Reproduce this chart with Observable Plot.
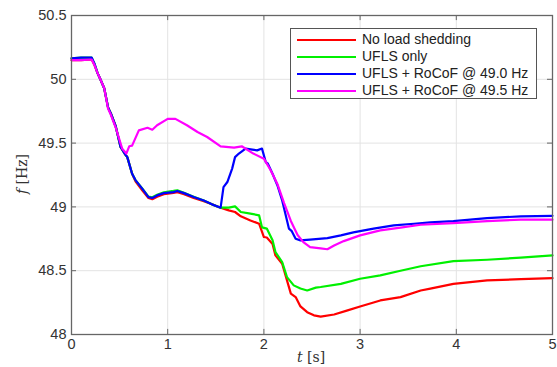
<!DOCTYPE html>
<html>
<head>
<meta charset="utf-8">
<script src="https://cdn.jsdelivr.net/npm/d3@7"></script>
<script src="https://cdn.jsdelivr.net/npm/@observablehq/plot@0.6"></script>
<style>
  html, body { margin: 0; padding: 0; background: #fff; }
  #wrap { position: relative; width: 557px; height: 367px; font-family: "Liberation Sans", Arial, sans-serif; }
  #legend { position: absolute; left: 290px; top: 28px; width: 245px; height: 69px; border: 1px solid #555; background: #fff; }
  .row { position: absolute; left: 0; height: 17px; width: 245px; }
  .sw { position: absolute; left: 6px; top: 8px; width: 59px; height: 2px; }
  .lab { position: absolute; left: 71px; top: 0px; font-size: 14px; line-height: 17px; color: #222; white-space: nowrap; }
  .serif { font-family: "DejaVu Serif", "Liberation Serif", serif !important; }
</style>
</head>
<body>
<div id="wrap"></div>
<script>
// Series names and colours
const seriesNames = ["No load shedding", "UFLS only", "UFLS + RoCoF @ 49.0 Hz", "UFLS + RoCoF @ 49.5 Hz"];
const seriesColors = ["#ff0000", "#00f000", "#0000ff", "#ff00ff"];

// Axis ticks
const xTicks = [0, 1, 2, 3, 4, 5];
const yTicks = [48, 48.5, 49, 49.5, 50, 50.5];

// No load shedding (red)
const tRed = [0, 0.1, 0.21, 0.24, 0.27, 0.30, 0.34, 0.38, 0.41, 0.46, 0.51, 0.56,
  0.58, 0.63, 0.665, 0.735, 0.80, 0.84, 0.89, 0.96, 1.06, 1.1, 1.17, 1.27, 1.375, 1.46, 1.55,
  1.635, 1.70, 1.76, 1.86, 1.95, 2.0, 2.03, 2.09, 2.12, 2.19, 2.24, 2.28, 2.33, 2.38, 2.45, 2.52, 2.59,
  2.73, 2.87, 3.0, 3.21, 3.42, 3.63, 3.73, 3.97, 4.32, 4.67, 5.0];
const fRed = [50.15, 50.15, 50.155, 50.11, 50.05, 50.0, 49.93, 49.78, 49.73, 49.63, 49.47, 49.41,
  49.39, 49.26, 49.2, 49.13, 49.07, 49.06, 49.08, 49.1, 49.11, 49.115, 49.1, 49.07, 49.045, 49.02, 48.994,
  48.973, 48.96, 48.926, 48.894, 48.868, 48.764, 48.76, 48.71, 48.62, 48.555, 48.424, 48.32, 48.293, 48.22, 48.175, 48.15, 48.14,
  48.157, 48.189, 48.22, 48.267, 48.293, 48.345, 48.36, 48.397, 48.424, 48.434, 48.442];

// UFLS only (green)
const tGreen = [0, 0.1, 0.21, 0.24, 0.27, 0.30, 0.34, 0.38, 0.41, 0.46, 0.51, 0.56,
  0.58, 0.63, 0.665, 0.735, 0.80, 0.84, 0.89, 0.96, 1.06, 1.1, 1.17, 1.27, 1.375, 1.46, 1.55,
  1.635, 1.70, 1.76, 1.86, 1.95, 1.98, 2.03, 2.09, 2.12, 2.19, 2.24, 2.31, 2.38, 2.45, 2.54, 2.59,
  2.8, 3.0, 3.21, 3.42, 3.63, 3.97, 4.32, 4.67, 5.0];
const fGreen = [50.165, 50.17, 50.17, 50.12, 50.05, 50.0, 49.93, 49.78, 49.73, 49.63, 49.47, 49.41,
  49.39, 49.26, 49.21, 49.145, 49.08, 49.075, 49.095, 49.115, 49.125, 49.13, 49.11, 49.08, 49.05, 49.02, 48.994,
  48.994, 49.004, 48.96, 48.947, 48.934, 48.84, 48.83, 48.738, 48.646, 48.567, 48.45, 48.385, 48.36, 48.345, 48.367, 48.372,
  48.397, 48.437, 48.463, 48.5, 48.535, 48.575, 48.586, 48.602, 48.62];

// UFLS + RoCoF @ 49.0 Hz (blue)
const tBlue = [0, 0.1, 0.21, 0.24, 0.27, 0.30, 0.34, 0.38, 0.41, 0.46, 0.51, 0.56,
  0.58, 0.63, 0.665, 0.735, 0.80, 0.84, 0.89, 0.96, 1.06, 1.1, 1.17, 1.27, 1.375, 1.46, 1.55,
  1.58, 1.62, 1.67, 1.70, 1.74, 1.81, 1.88, 1.93, 1.98, 2.02, 2.04, 2.09, 2.14, 2.19, 2.26, 2.29, 2.33, 2.38,
  2.48, 2.66, 2.8, 2.93, 3.14, 3.35, 3.56, 3.73, 3.97, 4.32, 4.67, 5.0];
const fBlue = [50.165, 50.17, 50.17, 50.12, 50.05, 50.0, 49.93, 49.78, 49.73, 49.63, 49.47, 49.41,
  49.39, 49.26, 49.21, 49.143, 49.077, 49.07, 49.09, 49.108, 49.116, 49.125, 49.108, 49.077, 49.05, 49.02, 48.994,
  49.155, 49.195, 49.3, 49.39, 49.418, 49.457, 49.449, 49.443, 49.457, 49.35, 49.34, 49.26, 49.17, 49.05, 48.83, 48.81, 48.75, 48.738,
  48.743, 48.755, 48.777, 48.8, 48.83, 48.855, 48.868, 48.878, 48.889, 48.912, 48.926, 48.93];

// UFLS + RoCoF @ 49.5 Hz (magenta)
const tPink = [0, 0.1, 0.21, 0.24, 0.27, 0.30, 0.34, 0.38, 0.41, 0.46, 0.527, 0.57,
  0.6, 0.63, 0.7, 0.79, 0.84, 0.89, 1.0, 1.08, 1.2, 1.31, 1.41, 1.55, 1.69, 1.77, 1.89, 2.0,
  2.07, 2.14, 2.21, 2.28, 2.35, 2.41, 2.48, 2.59, 2.66, 2.73, 2.83, 3.0, 3.21, 3.42, 3.63, 3.97, 4.32, 4.67, 5.0];
const fPink = [50.15, 50.15, 50.155, 50.11, 50.05, 50.0, 49.93, 49.77, 49.72, 49.62, 49.457, 49.418,
  49.475, 49.48, 49.6, 49.62, 49.605, 49.64, 49.69, 49.69, 49.64, 49.587, 49.548, 49.475, 49.465, 49.475, 49.418, 49.378,
  49.287, 49.18, 49.03, 48.89, 48.78, 48.724, 48.685, 48.675, 48.668, 48.698, 48.732, 48.777, 48.816, 48.837, 48.86, 48.873, 48.889, 48.9, 48.9];

const series = [[tRed, fRed], [tGreen, fGreen], [tBlue, fBlue], [tPink, fPink]];
const data = series.flatMap(([ts, fs], i) => ts.map((t, j) => ({t, f: fs[j], s: seriesNames[i]})));

const axisColor = "#666";
const xDom = [0, 5], yDom = [48, 50.5];
const tkX = 0.052, tkY = 0.04; // inward tick lengths in data units (~5px)

const chart = Plot.plot({
  width: 557,
  height: 367,
  marginLeft: 71,
  marginRight: 5,
  marginTop: 15,
  marginBottom: 33,
  style: {fontFamily: "'Liberation Sans', Arial, sans-serif", fontSize: "14px", color: "#333", background: "#fff"},
  x: {domain: xDom, ticks: xTicks, label: null},
  y: {domain: yDom, ticks: yTicks, label: null},
  color: {domain: seriesNames, range: seriesColors},
  marks: [
    Plot.gridX(xTicks, {stroke: "#e3e3e3", strokeOpacity: 1, strokeWidth: 1}),
    Plot.gridY(yTicks, {stroke: "#e3e3e3", strokeOpacity: 1, strokeWidth: 1}),
    Plot.line(data, {x: "t", y: "f", z: "s", stroke: "s", strokeWidth: 2.2, curve: "linear"}),
    // inward ticks on all four sides
    Plot.ruleX(xTicks, {x: d => d, y1: yDom[0], y2: yDom[0] + tkY, stroke: axisColor}),
    Plot.ruleX(xTicks, {x: d => d, y1: yDom[1], y2: yDom[1] - tkY, stroke: axisColor}),
    Plot.ruleY(yTicks, {y: d => d, x1: xDom[0], x2: xDom[0] + tkX, stroke: axisColor}),
    Plot.ruleY(yTicks, {y: d => d, x1: xDom[1], x2: xDom[1] - tkX, stroke: axisColor}),
    Plot.frame({stroke: axisColor, strokeWidth: 1.3}),
    Plot.axisX(xTicks, {tickSize: 0, tickPadding: 4, fill: "#333", fontSize: 14.5, tickFormat: d => String(d)}),
    Plot.axisY(yTicks, {tickSize: 0, tickPadding: 5, fill: "#333", fontSize: 14.5, tickFormat: d => String(d)})
  ]
});

const wrap = document.getElementById("wrap");
wrap.appendChild(chart);

// Axis labels (LaTeX-style: italic variable + upright unit)
const svg = d3.select(chart);
const xl = svg.append("text").attr("class", "serif").attr("x", 311).attr("y", 362).attr("text-anchor", "middle")
  .style("font-size", "14px").attr("fill", "#333");
xl.append("tspan").attr("class", "serif").style("font-style", "italic").text("t");
xl.append("tspan").attr("class", "serif").text(" [s]");
const yl = svg.append("text").attr("class", "serif").attr("transform", "translate(27,174) rotate(-90)").attr("text-anchor", "middle")
  .style("font-size", "14px").attr("fill", "#333");
yl.append("tspan").attr("class", "serif").style("font-style", "italic").text("f");
yl.append("tspan").attr("class", "serif").text(" [Hz]");

// Legend
const legend = document.createElement("div");
legend.id = "legend";
seriesNames.forEach((name, i) => {
  const row = document.createElement("div");
  row.className = "row";
  row.style.top = (2 + i * 17) + "px";
  const sw = document.createElement("div");
  sw.className = "sw";
  sw.style.background = seriesColors[i];
  const lab = document.createElement("div");
  lab.className = "lab";
  lab.textContent = name;
  row.appendChild(sw);
  row.appendChild(lab);
  legend.appendChild(row);
});
wrap.appendChild(legend);
</script>
</body>
</html>
